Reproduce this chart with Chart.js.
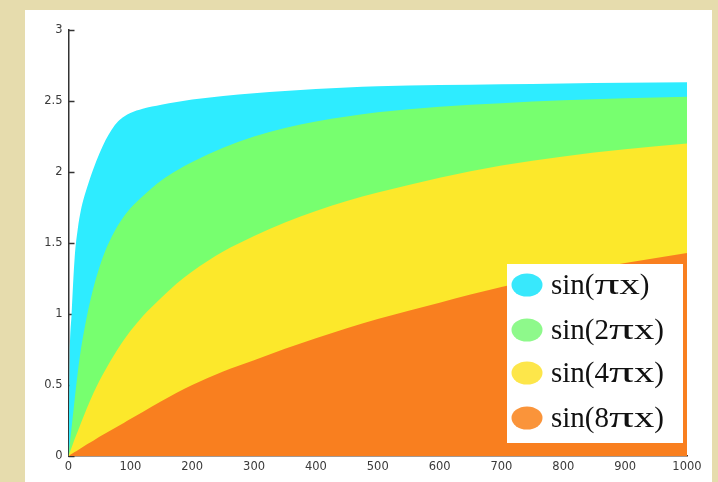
<!DOCTYPE html>
<html>
<head>
<meta charset="utf-8">
<script src="https://cdn.jsdelivr.net/npm/chart.js@4/dist/chart.umd.min.js"></script>
<style>
  html, body { margin: 0; padding: 0; }
  body { width: 718px; height: 482px; background: #e6dcad; position: relative; overflow: hidden; }
  #panel { position: absolute; left: 25px; top: 10px; width: 687px; height: 472px; background: #ffffff; }
  canvas { display: block; }
</style>
</head>
<body>
<div id="panel"><canvas id="chart" width="687" height="472"></canvas></div>
<script>
// Sample positions along the x axis
const xValues = [0, 2, 5, 10, 15, 20, 30, 40, 50, 60, 70, 80, 90, 100, 120, 150, 175, 200,
                 250, 300, 350, 400, 450, 500, 600, 700, 800, 900, 1000];

// Curve heights for each harmonic
const sinPiX  = [0, 0.70, 1.00, 1.40, 1.60, 1.73, 1.89, 2.02, 2.13, 2.225, 2.30, 2.355, 2.39, 2.415,
                 2.445, 2.473, 2.493, 2.51, 2.535, 2.555, 2.57, 2.585, 2.595, 2.603, 2.612, 2.618, 2.624, 2.628, 2.632];
const sin2PiX = [0, 0.08, 0.20, 0.40, 0.59, 0.75, 0.99, 1.18, 1.33, 1.45, 1.545, 1.625, 1.69, 1.745,
                 1.83, 1.94, 2.01, 2.07, 2.17, 2.25, 2.31, 2.355, 2.39, 2.42, 2.46, 2.485, 2.505, 2.52, 2.53];
const sin4PiX = [0, 0.024, 0.06, 0.12, 0.175, 0.23, 0.34, 0.44, 0.53, 0.61, 0.685, 0.755, 0.82, 0.88,
                 0.985, 1.115, 1.215, 1.30, 1.44, 1.55, 1.645, 1.725, 1.795, 1.855, 1.96, 2.045, 2.11, 2.16, 2.20];
const sin8PiX = [0, 0.0055, 0.014, 0.028, 0.041, 0.055, 0.082, 0.108, 0.135, 0.16, 0.185, 0.21, 0.235, 0.26,
                 0.31, 0.385, 0.445, 0.50, 0.595, 0.675, 0.755, 0.83, 0.90, 0.965, 1.08, 1.19, 1.28, 1.36, 1.43];

const seriesLabels = ['sin(\u03c0x)', 'sin(2\u03c0x)', 'sin(4\u03c0x)', 'sin(8\u03c0x)'];
const seriesValues = [sinPiX, sin2PiX, sin4PiX, sin8PiX];
const fillColors   = ['#2eecff', '#77ff6f', '#fce82b', '#f97f1f'];
const markerColors = ['#38e8fc', '#8ef98b', '#fde64a', '#fa943a'];

// Axis ticks
const yTickStep = 0.5;
const xTickStep = 100;

const toPoints = vals => vals.map((v, i) => ({ x: xValues[i], y: v }));

// Small inward tick marks on the y axis, drawn beneath the filled areas
const innerTicks = {
  id: 'innerTicks',
  beforeDatasetsDraw(chart) {
    const { ctx, chartArea, scales } = chart;
    const ys = scales.y;
    ctx.save();
    ctx.strokeStyle = '#333333';
    ctx.lineWidth = 1.5;
    ys.ticks.forEach(t => {
      const py = Math.round(ys.getPixelForValue(t.value)) + 0.5;
      ctx.beginPath();
      ctx.moveTo(chartArea.left, py);
      ctx.lineTo(chartArea.left + 6, py);
      ctx.stroke();
    });
    ctx.restore();
  }
};

// Draws a legend label; the Greek pi and the variable x are set wider
const wideGlyphs = { '\u03c0': 1.7, 'x': 1.4 };
function drawLabel(ctx, text, x, y) {
  let cx = x;
  for (const ch of text) {
    const w = ctx.measureText(ch).width;
    const sx = wideGlyphs[ch] || 1;
    ctx.save();
    ctx.translate(cx, y);
    ctx.scale(sx, 1);
    ctx.fillText(ch, 0, 0);
    ctx.restore();
    cx += w * sx;
  }
}

// Boxed legend inside the lower right of the plot
const insetLegend = {
  id: 'insetLegend',
  afterDatasetsDraw(chart) {
    const { ctx, chartArea } = chart;
    const w = 176, h = 179;
    const right = chartArea.right - 4;
    const bottom = chartArea.bottom - 13;
    const left = right - w, top = bottom - h;
    ctx.save();
    ctx.fillStyle = '#ffffff';
    ctx.fillRect(left, top, w, h);
    const rowY = [21, 66, 109, 154];
    ctx.font = '29px "Liberation Serif", "Times New Roman", serif';
    ctx.textBaseline = 'middle';
    ctx.textAlign = 'left';
    chart.data.datasets.forEach((ds, i) => {
      const cy = top + rowY[i];
      ctx.fillStyle = markerColors[i];
      ctx.beginPath();
      ctx.ellipse(left + 20, cy, 15.5, 11.5, 0, 0, Math.PI * 2);
      ctx.fill();
      ctx.fillStyle = '#111111';
      drawLabel(ctx, ds.label, left + 44, cy + 1);
    });
    ctx.restore();
  }
};

const tickFont = { family: '"DejaVu Sans", sans-serif', size: 11.5 };

new Chart(document.getElementById('chart'), {
  type: 'line',
  data: {
    datasets: seriesValues.map((vals, i) => ({
      label: seriesLabels[i],
      data: toPoints(vals),
      backgroundColor: fillColors[i],
      borderColor: fillColors[i],
      borderWidth: 0,
      pointRadius: 0,
      fill: 'origin',
      cubicInterpolationMode: 'monotone',
      order: seriesValues.length - i
    }))
  },
  options: {
    responsive: false,
    animation: false,
    layout: { padding: { top: 20, right: 25, bottom: 0, left: 0 } },
    plugins: { legend: { display: false }, tooltip: { enabled: false } },
    scales: {
      x: {
        type: 'linear',
        min: 0, max: 1000,
        grid: { display: true, drawOnChartArea: false, drawTicks: false, color: 'rgba(0,0,0,0)' },
        border: { display: true, color: '#4a3526', width: 1.5 },
        ticks: {
          stepSize: xTickStep, padding: 4, color: '#3a3a3a', maxRotation: 0,
          font: tickFont, callback: v => String(v)
        },
        afterFit(scale) { scale.height = 26; }
      },
      y: {
        type: 'linear',
        min: 0, max: 3,
        grid: { display: true, drawOnChartArea: false, drawTicks: false, color: 'rgba(0,0,0,0)' },
        border: { display: true, color: '#333333', width: 1.5 },
        ticks: {
          stepSize: yTickStep, padding: 6, color: '#3a3a3a',
          font: tickFont, callback: v => String(v)
        },
        afterFit(scale) { scale.width = 43.5; }
      }
    }
  },
  plugins: [innerTicks, insetLegend]
});
</script>
</body>
</html>
